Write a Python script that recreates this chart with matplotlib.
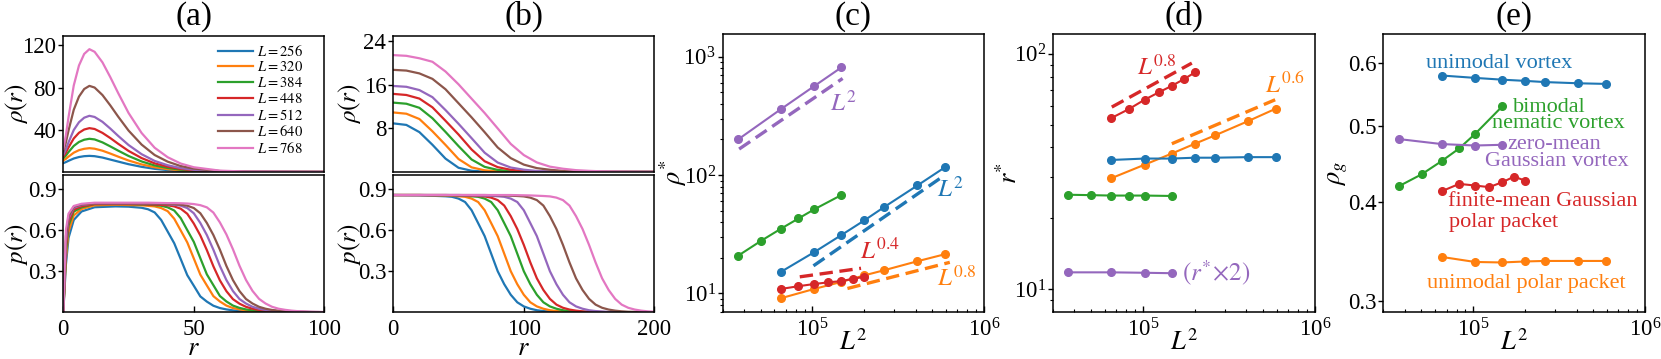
import matplotlib
matplotlib.use('Agg')
import matplotlib.pyplot as plt
from matplotlib.ticker import FixedLocator, NullLocator, FuncFormatter, LogLocator, NullFormatter

plt.rcParams['font.family'] = ['Liberation Serif', 'DejaVu Serif']
plt.rcParams['mathtext.fontset'] = 'stix'
plt.rcParams['axes.linewidth'] = 1.1

BLUE, ORANGE, GREEN, RED, PURPLE, BROWN, PINK = ('#1f77b4', '#ff7f0e', '#2ca02c', '#d62728',
                                                '#9467bd', '#8c564b', '#e377c2')
COLORS = [BLUE, ORANGE, GREEN, RED, PURPLE, BROWN, PINK]

# ---------------- data: panel (a) ----------------
L_sizes = [256, 320, 384, 448, 512, 640, 768]

ra_top = [0, 1, 2, 4, 6, 8, 10, 12, 15, 18, 21, 25, 30, 35, 40, 45, 50, 60, 70, 100]
a_rho_256 = [8.4, 9.4, 10.6, 12.8, 14.2, 15.0, 15.3, 15.0, 13.7, 11.8, 9.9, 7.4, 4.9, 3.0, 1.8, 1.06, 0.6, 0.17, 0.05, 0.02]
a_rho_320 = [10.9, 12.5, 14.6, 18.3, 20.7, 22.0, 22.6, 22.1, 20.2, 17.5, 14.6, 10.9, 7.2, 4.5, 2.7, 1.6, 0.9, 0.25, 0.08, 0.02]
a_rho_384 = [13.0, 15.6, 18.9, 24.7, 28.5, 30.6, 31.5, 30.9, 28.1, 24.3, 20.3, 15.2, 10.0, 6.2, 3.8, 2.2, 1.2, 0.35, 0.11, 0.03]
a_rho_448 = [14.7, 18.5, 23.3, 31.8, 37.2, 40.3, 41.6, 40.8, 37.1, 32.2, 26.8, 20.0, 13.2, 8.2, 5.0, 2.9, 1.6, 0.46, 0.14, 0.04]
a_rho_512 = [16.3, 21.5, 28.1, 39.8, 47.2, 51.5, 53.3, 52.2, 47.6, 41.2, 34.3, 25.6, 16.9, 10.5, 6.4, 3.7, 2.1, 0.59, 0.18, 0.05]
a_rho_640 = [19.4, 28.1, 39.3, 59.0, 71.5, 78.7, 81.7, 80.1, 73.0, 63.2, 52.6, 39.3, 26.0, 16.1, 9.8, 5.6, 3.2, 0.9, 0.28, 0.08]
a_rho_768 = [22.0, 35.0, 52.0, 82.0, 101.0, 112.0, 116.5, 114.0, 104.0, 90.0, 75.0, 56.0, 37.0, 23.0, 14.0, 8.0, 4.5, 1.3, 0.4, 0.1]

ra_bot = [0, 1, 2, 4, 7, 12, 20, 25, 30, 32.5, 35, 37.5, 40, 42.5, 45, 47.5, 50, 52.5, 55, 57.5, 60,
          62.5, 65, 67.5, 70, 72.5, 75, 77.5, 80, 82.5, 85, 87.5, 90, 92.5, 95, 97.5, 100]
a_p_256 = [0, 0.349, 0.543, 0.674, 0.736, 0.767, 0.773, 0.771, 0.763, 0.752, 0.729, 0.674, 0.589, 0.504,
           0.388, 0.271, 0.194, 0.116, 0.078, 0.048, 0.031, 0.021, 0.014, 0.009, 0.006, 0.005, 0.003, 0.002,
           0.002, 0.001, 0.001, 0.001, 0.001, 0.001, 0.001, 0.001, 0.001]
a_p_320 = [0, 0.393, 0.589, 0.707, 0.754, 0.781, 0.785, 0.783, 0.781, 0.777, 0.773, 0.761, 0.738, 0.683,
           0.597, 0.510, 0.393, 0.275, 0.196, 0.118, 0.079, 0.049, 0.031, 0.021, 0.014, 0.009, 0.006, 0.005,
           0.003, 0.002, 0.002, 0.001, 0.001, 0.001, 0.001, 0.001, 0.001]
a_p_384 = [0, 0.435, 0.632, 0.735, 0.766, 0.79, 0.79, 0.79, 0.787, 0.786, 0.782, 0.778, 0.766, 0.743,
           0.687, 0.600, 0.514, 0.395, 0.277, 0.198, 0.119, 0.079, 0.049, 0.032, 0.021, 0.014, 0.009, 0.006,
           0.005, 0.003, 0.002, 0.002, 0.001, 0.001, 0.001, 0.001, 0.001]
a_p_448 = [0, 0.474, 0.656, 0.75, 0.774, 0.79, 0.79, 0.79, 0.789, 0.787, 0.786, 0.784, 0.781, 0.773,
           0.756, 0.719, 0.648, 0.561, 0.454, 0.336, 0.233, 0.154, 0.096, 0.063, 0.040, 0.026, 0.017, 0.012,
           0.008, 0.006, 0.004, 0.003, 0.002, 0.002, 0.001, 0.001, 0.001]
a_p_512 = [0, 0.517, 0.684, 0.763, 0.783, 0.795, 0.795, 0.795, 0.794, 0.793, 0.792, 0.791, 0.789, 0.785,
           0.778, 0.761, 0.723, 0.652, 0.564, 0.457, 0.338, 0.235, 0.155, 0.097, 0.064, 0.040, 0.026, 0.017,
           0.012, 0.008, 0.006, 0.004, 0.003, 0.002, 0.002, 0.001, 0.001]
a_p_640 = [0, 0.557, 0.70, 0.771, 0.787, 0.795, 0.795, 0.795, 0.795, 0.794, 0.793, 0.792, 0.791, 0.789,
           0.785, 0.778, 0.761, 0.723, 0.652, 0.564, 0.457, 0.338, 0.235, 0.155, 0.097, 0.064, 0.040, 0.026,
           0.017, 0.012, 0.008, 0.006, 0.004, 0.003, 0.002, 0.002, 0.001]
a_p_768 = [0, 0.60, 0.72, 0.776, 0.792, 0.80, 0.80, 0.80, 0.80, 0.80, 0.799, 0.798, 0.797, 0.797,
           0.796, 0.794, 0.790, 0.782, 0.766, 0.728, 0.656, 0.568, 0.46, 0.34, 0.236, 0.156, 0.098, 0.064,
           0.040, 0.026, 0.018, 0.012, 0.008, 0.006, 0.004, 0.003, 0.002]

# ---------------- data: panel (b) ----------------
rb_top = [0, 10, 20, 30, 40, 50, 60, 70, 80, 90, 100, 110, 120, 130, 140, 150, 160, 180, 200]
b_rho_256 = [8.9, 8.62, 7.30, 4.98, 2.45, 0.77, 0.23, 0.07, 0.03, 0.01, 0.01, 0.01, 0.01, 0.01, 0.01, 0.01, 0.01, 0.01, 0.01]
b_rho_320 = [10.9, 10.67, 9.70, 7.45, 4.96, 2.37, 0.85, 0.31, 0.11, 0.045, 0.02, 0.01, 0.01, 0.01, 0.01, 0.01, 0.01, 0.01, 0.01]
b_rho_384 = [12.7, 12.5, 11.75, 9.84, 7.34, 4.74, 2.29, 0.94, 0.38, 0.15, 0.07, 0.03, 0.01, 0.01, 0.01, 0.01, 0.01, 0.01, 0.01]
b_rho_448 = [14.3, 14.1, 13.44, 11.84, 9.38, 6.86, 4.12, 1.97, 0.89, 0.40, 0.17, 0.09, 0.04, 0.02, 0.01, 0.01, 0.01, 0.01, 0.01]
b_rho_512 = [15.75, 15.6, 15.0, 13.7, 11.34, 8.82, 6.19, 3.53, 1.73, 0.82, 0.42, 0.19, 0.11, 0.06, 0.03, 0.015, 0.01, 0.01, 0.01]
b_rho_640 = [18.7, 18.57, 18.05, 17.05, 15.15, 12.58, 10.0, 7.29, 4.49, 2.54, 1.35, 0.71, 0.41, 0.21, 0.12, 0.07, 0.04, 0.02, 0.01]
b_rho_768 = [21.4, 21.27, 20.82, 20.18, 18.40, 16.05, 13.42, 10.8, 7.98, 5.14, 3.10, 1.75, 0.98, 0.60, 0.34, 0.21, 0.12, 0.05, 0.02]

rb_bot = [0, 20, 40, 45, 50, 55, 60, 65, 70, 75, 80, 85, 90, 95, 100, 105, 110, 115, 120, 125, 130,
          135, 140, 145, 150, 155, 160, 165, 170, 175, 180, 185, 190, 195, 200]
b_p_256 = [0.856, 0.854, 0.847, 0.843, 0.830, 0.805, 0.745, 0.651, 0.556, 0.428, 0.300, 0.205, 0.128, 0.073,
           0.043, 0.026, 0.015, 0.009, 0.006, 0.003, 0.002, 0.002, 0.001, 0.001, 0.001, 0.001, 0.001, 0.001,
           0.001, 0.001, 0.001, 0.001, 0.001, 0.001, 0.001]
b_p_320 = [0.856, 0.856, 0.852, 0.850, 0.847, 0.843, 0.830, 0.805, 0.745, 0.651, 0.556, 0.428, 0.300, 0.205,
           0.128, 0.073, 0.043, 0.026, 0.015, 0.009, 0.006, 0.003, 0.002, 0.002, 0.001, 0.001, 0.001, 0.001,
           0.001, 0.001, 0.001, 0.001, 0.001, 0.001, 0.001]
b_p_384 = [0.856, 0.856, 0.854, 0.853, 0.852, 0.850, 0.847, 0.843, 0.830, 0.805, 0.745, 0.651, 0.556, 0.428,
           0.300, 0.205, 0.128, 0.073, 0.043, 0.026, 0.015, 0.009, 0.006, 0.003, 0.002, 0.002, 0.001, 0.001,
           0.001, 0.001, 0.001, 0.001, 0.001, 0.001, 0.001]
b_p_448 = [0.856, 0.856, 0.856, 0.855, 0.854, 0.853, 0.851, 0.849, 0.846, 0.837, 0.819, 0.779, 0.702, 0.608,
           0.492, 0.364, 0.248, 0.163, 0.098, 0.056, 0.033, 0.020, 0.012, 0.007, 0.004, 0.003, 0.002, 0.001,
           0.001, 0.001, 0.001, 0.001, 0.001, 0.001, 0.001]
b_p_512 = [0.856, 0.856, 0.856, 0.856, 0.856, 0.855, 0.854, 0.853, 0.852, 0.850, 0.847, 0.843, 0.830, 0.805,
           0.745, 0.651, 0.556, 0.428, 0.300, 0.205, 0.128, 0.073, 0.043, 0.026, 0.015, 0.009, 0.006, 0.003,
           0.002, 0.002, 0.001, 0.001, 0.001, 0.001, 0.001]
b_p_640 = [0.856, 0.856, 0.856, 0.856, 0.856, 0.856, 0.856, 0.856, 0.856, 0.855, 0.854, 0.853, 0.851, 0.849,
           0.846, 0.837, 0.819, 0.779, 0.702, 0.608, 0.492, 0.364, 0.248, 0.163, 0.098, 0.056, 0.033, 0.020,
           0.012, 0.007, 0.004, 0.003, 0.002, 0.001, 0.001]
b_p_768 = [0.856, 0.856, 0.856, 0.856, 0.856, 0.856, 0.856, 0.856, 0.856, 0.856, 0.856, 0.856, 0.856, 0.855,
           0.854, 0.853, 0.851, 0.849, 0.846, 0.837, 0.819, 0.779, 0.702, 0.608, 0.492, 0.364, 0.248, 0.163,
           0.098, 0.056, 0.033, 0.020, 0.012, 0.007, 0.004]

# ---------------- data: panels (c), (d), (e) ----------------
L_unimodal_vortex = [256, 320, 384, 448, 512, 640, 768]      # blue
L_unimodal_polar = [256, 320, 384, 448, 512, 640, 768]       # orange
L_bimodal_nematic = [192, 224, 256, 288, 320, 384]           # green
L_finite_mean = [256, 288, 320, 352, 384, 416, 448]          # red
L_zero_mean = [192, 256, 320, 384]                           # purple

c_rho_zero_mean = [200, 361, 565, 813]
c_rho_bimodal = [20.8, 27.8, 35.2, 43.0, 51.3, 67.8]
c_rho_unimodal_vortex = [15.2, 22.3, 31.1, 41.4, 53.7, 81.8, 116]
c_rho_finite_mean = [10.9, 11.5, 12.0, 12.4, 12.7, 13.3, 13.8]
c_rho_unimodal_polar = [9.1, 10.9, 12.5, 14.2, 15.7, 18.7, 21.4]

d_r_finite_mean = [53.3, 58.2, 63.8, 68.6, 73.1, 78.0, 83.3]
d_r_unimodal_polar = [29.6, 33.8, 37.7, 41.5, 45.0, 51.8, 58.4]
d_r_unimodal_vortex = [35.4, 35.9, 35.9, 36.2, 36.2, 36.4, 36.4]
d_r_bimodal = [25.2, 25.1, 25.0, 25.0, 25.0, 24.9]
d_r_zero_mean_x2 = [11.8, 11.8, 11.75, 11.7]

e_g_unimodal_vortex = [0.579, 0.575, 0.572, 0.570, 0.568, 0.566, 0.565]
e_g_bimodal = [0.419, 0.434, 0.451, 0.468, 0.488, 0.529]
e_g_zero_mean = [0.481, 0.474, 0.472, 0.473]
e_g_finite_mean = [0.413, 0.422, 0.420, 0.418, 0.424, 0.431, 0.426]
e_g_unimodal_polar = [0.341, 0.336, 0.3355, 0.3365, 0.337, 0.337, 0.337]

# power-law guide segments: (x = L^2 end points, y end points)
c_guide_purple_x, c_guide_purple_y = [3.74e4, 1.5e5], [166, 656]
c_guide_blue_x, c_guide_blue_y = [1.014e5, 5.91e5], [17.1, 100]
c_guide_red_x, c_guide_red_y = [8.44e4, 1.92e5], [13.8, 16.3]
c_guide_orange_x, c_guide_orange_y = [1.6e5, 6.32e5], [11.0, 18.3]
d_guide_red_x, d_guide_red_y = [6.61e4, 1.927e5], [59.4, 91.3]
d_guide_orange_x, d_guide_orange_y = [1.475e5, 5.87e5], [41.5, 63.8]

# ---------------- figure ----------------
W, H = 1661, 359
fig = plt.figure(figsize=(W / 100, H / 100), dpi=100)


def box(x0, x1, ytop, ybot):
    return [x0 / W, 1 - ybot / H, (x1 - x0) / W, (ybot - ytop) / H]


ax_a1 = fig.add_axes(box(63.3, 324.3, 36, 172))
ax_a2 = fig.add_axes(box(63.3, 324.3, 175.3, 312.3))
ax_b1 = fig.add_axes(box(393.3, 654.3, 36, 172))
ax_b2 = fig.add_axes(box(393.3, 654.3, 175.3, 312.3))
ax_c = fig.add_axes(box(722.7, 984, 34.3, 311.7))
ax_d = fig.add_axes(box(1052.7, 1315, 34.3, 311.7))
ax_e = fig.add_axes(box(1383.3, 1645, 34.3, 311.7))

TICK_FS = 16.5
LABEL_FS = 19


def style(ax):
    ax.tick_params(axis='x', which='major', direction='in', length=4.5, width=1, labelsize=TICK_FS, pad=4.5,
                   top=False)
    ax.tick_params(axis='x', which='minor', direction='in', length=2.5, width=0.8, top=False)
    ax.tick_params(axis='y', which='major', direction='out', length=3.5, width=1, labelsize=TICK_FS, pad=1.5,
                   right=False)
    ax.tick_params(axis='y', which='minor', direction='out', length=2.2, width=0.8, right=False)


rho_a = [a_rho_256, a_rho_320, a_rho_384, a_rho_448, a_rho_512, a_rho_640, a_rho_768]
p_a = [a_p_256, a_p_320, a_p_384, a_p_448, a_p_512, a_p_640, a_p_768]
rho_b = [b_rho_256, b_rho_320, b_rho_384, b_rho_448, b_rho_512, b_rho_640, b_rho_768]
p_b = [b_p_256, b_p_320, b_p_384, b_p_448, b_p_512, b_p_640, b_p_768]

for L, c, y1, y2, y3, y4 in zip(L_sizes, COLORS, rho_a, p_a, rho_b, p_b):
    ax_a1.plot(ra_top, y1, color=c, lw=1.6, label=r'$L=%d$' % L)
    ax_a2.plot(ra_bot, y2, color=c, lw=1.6)
    ax_b1.plot(rb_top, y3, color=c, lw=1.6)
    ax_b2.plot(rb_bot, y4, color=c, lw=1.6)

for ax in (ax_a1, ax_a2):
    ax.set_xlim(0, 100)
for ax in (ax_b1, ax_b2):
    ax.set_xlim(0, 200)
ax_a1.set_ylim(0, 129)
ax_b1.set_ylim(0, 24.9)
ax_a2.set_ylim(0, 1.0)
ax_b2.set_ylim(0, 1.0)
ax_a1.set_yticks([40, 80, 120])
ax_b1.set_yticks([8, 16, 24])
for ax in (ax_a2, ax_b2):
    ax.set_yticks([0.3, 0.6, 0.9])
ax_a2.set_xticks([0, 50, 100])
ax_b2.set_xticks([0, 100, 200])
for ax in (ax_a1, ax_a2, ax_b1, ax_b2):
    style(ax)
for ax in (ax_a1, ax_b1):
    ax.tick_params(axis='x', bottom=False, labelbottom=False)

for ax in (ax_a1, ax_b1):
    ax.set_ylabel(r'$\rho(r)$', fontsize=18)
for ax in (ax_a2, ax_b2):
    ax.set_ylabel(r'$p(r)$', fontsize=18)
    ax.set_xlabel(r'$r$', fontsize=LABEL_FS)
ax_a1.yaxis.set_label_coords(-0.127, 0.5)
ax_a2.yaxis.set_label_coords(-0.127, 0.5)
ax_b1.yaxis.set_label_coords(-0.118, 0.5)
ax_b2.yaxis.set_label_coords(-0.118, 0.5)
ax_a2.xaxis.set_label_coords(0.5, -0.185)
ax_b2.xaxis.set_label_coords(0.5, -0.185)

ax_a1.legend(loc='upper right', bbox_to_anchor=(0.93, 0.965), frameon=False, fontsize=10.5,
             handlelength=2.4, handletextpad=0.3, labelspacing=0.12, borderpad=0.2, borderaxespad=0.0)

# ---- (c) ----
mk = dict(marker='o', markersize=5.5, lw=1.5)
X = lambda Ls: [v * v for v in Ls]
ax_c.plot(X(L_zero_mean), c_rho_zero_mean, color=PURPLE, **mk)
ax_c.plot(X(L_bimodal_nematic), c_rho_bimodal, color=GREEN, **mk)
ax_c.plot(X(L_unimodal_vortex), c_rho_unimodal_vortex, color=BLUE, **mk)
ax_c.plot(X(L_unimodal_polar), c_rho_unimodal_polar, color=ORANGE, **mk)
ax_c.plot(X(L_finite_mean), c_rho_finite_mean, color=RED, **mk)
dash = dict(lw=2.4, linestyle=(0, (4, 2)))
ax_c.plot(c_guide_purple_x, c_guide_purple_y, color=PURPLE, **dash)
ax_c.plot(c_guide_blue_x, c_guide_blue_y, color=BLUE, **dash)
ax_c.plot(c_guide_red_x, c_guide_red_y, color=RED, **dash)
ax_c.plot(c_guide_orange_x, c_guide_orange_y, color=ORANGE, **dash)
ax_c.set_ylim(7, 1550)
ANN_FS = 18
ax_c.text(0.411, 0.751, r'$L^2$', color=PURPLE, fontsize=ANN_FS, transform=ax_c.transAxes, ha='left', va='center')
ax_c.text(0.819, 0.439, r'$L^2$', color=BLUE, fontsize=ANN_FS, transform=ax_c.transAxes, ha='left', va='center')
ax_c.text(0.525, 0.219, r'$L^{0.4}$', color=RED, fontsize=ANN_FS, transform=ax_c.transAxes, ha='left', va='center')
ax_c.text(0.819, 0.121, r'$L^{0.8}$', color=ORANGE, fontsize=ANN_FS, transform=ax_c.transAxes, ha='left', va='center')
ax_c.set_ylabel(r'$\rho^{*}$', fontsize=LABEL_FS)
ax_c.yaxis.set_label_coords(-0.13, 0.5)

# ---- (d) ----
ax_d.plot(X(L_finite_mean), d_r_finite_mean, color=RED, **mk)
ax_d.plot(X(L_unimodal_polar), d_r_unimodal_polar, color=ORANGE, **mk)
ax_d.plot(X(L_unimodal_vortex), d_r_unimodal_vortex, color=BLUE, **mk)
ax_d.plot(X(L_bimodal_nematic), d_r_bimodal, color=GREEN, **mk)
ax_d.plot(X(L_zero_mean), d_r_zero_mean_x2, color=PURPLE, **mk)
ax_d.plot(d_guide_red_x, d_guide_red_y, color=RED, **dash)
ax_d.plot(d_guide_orange_x, d_guide_orange_y, color=ORANGE, **dash)
ax_d.set_ylim(8.03, 121)
ax_d.text(0.320, 0.880, r'$L^{0.8}$', color=RED, fontsize=ANN_FS, transform=ax_d.transAxes, ha='left', va='center')
ax_d.text(0.809, 0.817, r'$L^{0.6}$', color=ORANGE, fontsize=ANN_FS, transform=ax_d.transAxes, ha='left', va='center')
ax_d.text(0.492, 0.138, r'$(r^{*}\!\times\!2)$', color=PURPLE, fontsize=ANN_FS, transform=ax_d.transAxes,
          ha='left', va='center')
ax_d.set_ylabel(r'$r^{*}$', fontsize=LABEL_FS)
ax_d.yaxis.set_label_coords(-0.116, 0.5)

# ---- (e) ----
ax_e.plot(X(L_unimodal_vortex), e_g_unimodal_vortex, color=BLUE, **mk)
ax_e.plot(X(L_bimodal_nematic), e_g_bimodal, color=GREEN, **mk)
ax_e.plot(X(L_zero_mean), e_g_zero_mean, color=PURPLE, **mk)
ax_e.plot(X(L_finite_mean), e_g_finite_mean, color=RED, **mk)
ax_e.plot(X(L_unimodal_polar), e_g_unimodal_polar, color=ORANGE, **mk)
ax_e.set_yscale('log')
ax_e.set_ylim(0.2906, 0.653)
ax_e.yaxis.set_major_locator(FixedLocator([0.3, 0.4, 0.5, 0.6]))
ax_e.yaxis.set_major_formatter(FuncFormatter(lambda v, p: '%.1f' % v))
ax_e.yaxis.set_minor_locator(NullLocator())
ax_e.yaxis.set_minor_formatter(NullFormatter())
TXT_FS = 16
for s, fx, fy, c in [('unimodal vortex', 0.443, 0.895, BLUE),
                     ('bimodal', 0.634, 0.737, GREEN),
                     ('nematic vortex', 0.669, 0.677, GREEN),
                     ('zero-mean', 0.652, 0.601, PURPLE),
                     ('Gaussian vortex', 0.663, 0.543, PURPLE),
                     ('finite-mean Gaussian', 0.608, 0.397, RED),
                     ('polar packet', 0.459, 0.323, RED),
                     ('unimodal polar packet', 0.545, 0.102, ORANGE)]:
    ax_e.text(fx, fy, s, color=c, fontsize=TXT_FS, transform=ax_e.transAxes, ha='center', va='center')
ax_e.set_ylabel(r'$\rho_g$', fontsize=LABEL_FS)
ax_e.yaxis.set_label_coords(-0.127, 0.5)

for ax in (ax_c, ax_d):
    ax.set_yscale('log')
    ax.yaxis.set_major_locator(LogLocator(base=10, numticks=10))
    ax.yaxis.set_minor_locator(LogLocator(base=10, subs=tuple(range(2, 10)), numticks=10))
    ax.yaxis.set_minor_formatter(NullFormatter())
for ax in (ax_c, ax_d, ax_e):
    ax.set_xscale('log')
    ax.set_xlim(3e4, 1e6)
    ax.xaxis.set_minor_locator(LogLocator(base=10, subs=tuple(range(2, 10)), numticks=10))
    ax.xaxis.set_minor_formatter(NullFormatter())
    style(ax)
    ax.set_xlabel(r'$L^2$', fontsize=LABEL_FS)
    ax.xaxis.set_label_coords(0.5, -0.062)

# panel titles
for ax, t in zip([ax_a1, ax_b1, ax_c, ax_d, ax_e], ['(a)', '(b)', '(c)', '(d)', '(e)']):
    pos = ax.get_position()
    fig.text(pos.x0 + pos.width / 2, 1 - 16.7 / H, t, fontsize=24, ha='center', va='center')

fig.savefig('out.png', dpi=100)
